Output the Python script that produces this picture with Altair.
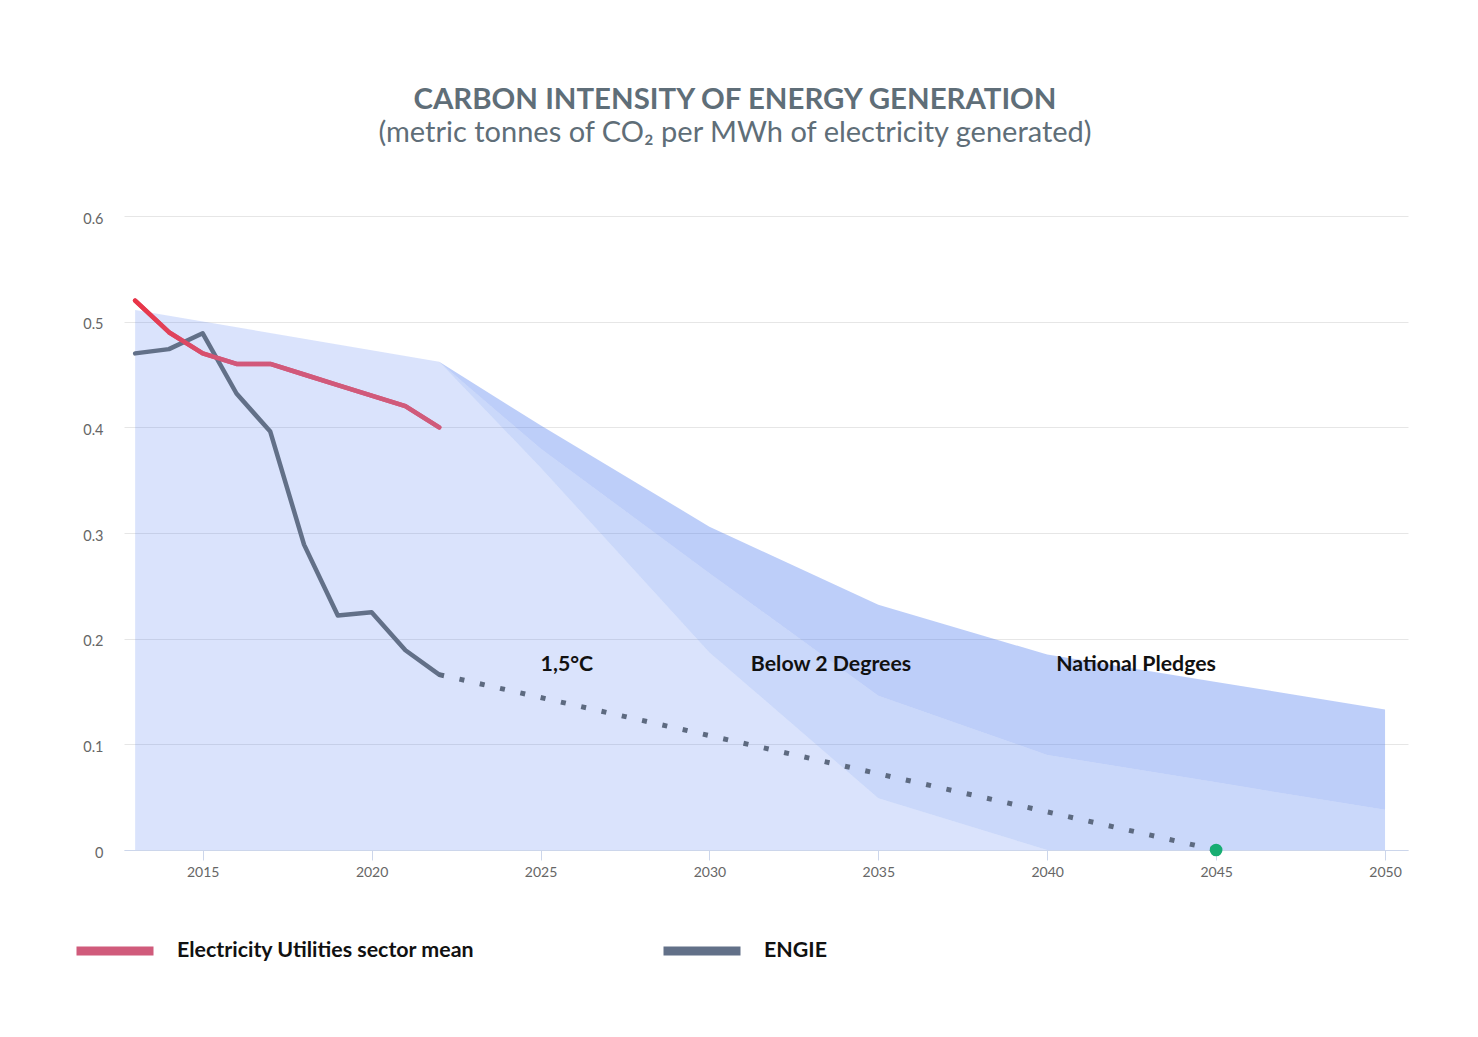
import altair as alt
import pandas as pd

# ---- data ----
band_years = [2013, 2022, 2025, 2030, 2035, 2040, 2045, 2050]
p15_upper = [0.511, 0.462, 0.362, 0.187, 0.049, 0.0, 0.0, 0.0]
b2d_upper = [0.511, 0.462, 0.380, 0.262, 0.146, 0.090, 0.064, 0.038]
np_upper = [0.511, 0.462, 0.402, 0.306, 0.232, 0.185, 0.159, 0.133]

line_years = [2013, 2014, 2015, 2016, 2017, 2018, 2019, 2020, 2021, 2022]
sector_mean = [0.520, 0.490, 0.470, 0.460, 0.460, 0.450, 0.440, 0.430, 0.420, 0.400]
engie = [0.470, 0.474, 0.489, 0.432, 0.396, 0.289, 0.222, 0.225, 0.189, 0.166]

proj_years = [2022, 2045]
proj_values = [0.166, 0.0]

target_year = [2045]
target_value = [0.0]

band_labels = ["1,5°C", "Below 2 Degrees", "National Pledges"]
band_label_x = [2025.78, 2033.6, 2042.63]
band_label_y = [0.175, 0.175, 0.175]

series_names = ["Electricity Utilities sector mean", "ENGIE"]
series_colors = ["#d05b7b", "#627088"]

x_ticks = [2015, 2020, 2025, 2030, 2035, 2040, 2045, 2050]
y_ticks = [0.0, 0.1, 0.2, 0.3, 0.4, 0.5, 0.6]

# ---- tables ----
bands = pd.DataFrame({"year": band_years, "p15": p15_upper, "b2d": b2d_upper,
                      "np": np_upper, "zero": [0.0] * len(band_years)})
lines = pd.concat([
    pd.DataFrame({"year": line_years, "value": sector_mean, "series": series_names[0]}),
    pd.DataFrame({"year": line_years, "value": engie, "series": series_names[1]}),
])
red_only = pd.DataFrame({"year": line_years, "value": sector_mean})
proj = pd.DataFrame({"year": proj_years, "value": proj_values})
target = pd.DataFrame({"year": target_year, "value": target_value})
labels = pd.DataFrame({"year": band_label_x, "value": band_label_y, "text": band_labels})

xscale = alt.Scale(domain=[2012.67, 2050.68], nice=False, zero=False)
yscale = alt.Scale(domain=[0, 0.6], nice=False)

x_axis = alt.Axis(values=x_ticks, format="d", grid=False, domainColor="#ccd6eb",
                  tickColor="#ccd6eb", tickSize=10, labelPadding=5,
                  labelFont="Lato", labelFontSize=14, labelColor="#666666")
y_axis = alt.Axis(values=y_ticks, format=".1~f", domain=False, ticks=False,
                  labelPadding=21, labelOffset=3, gridColor="#e6e6e6", labelFont="Lato",
                  labelFontSize=14.5, labelColor="#666666")

base_blue = "#4f7df0"

band15 = alt.Chart(bands).mark_area(color=base_blue, opacity=0.21).encode(
    x=alt.X("year:Q", scale=xscale, title=None, axis=x_axis),
    y=alt.Y("p15:Q", scale=yscale, axis=y_axis, title=None), y2="zero:Q")
band2 = alt.Chart(bands).mark_area(color=base_blue, opacity=0.30).encode(
    x="year:Q", y=alt.Y("b2d:Q", scale=yscale), y2="p15:Q")
band3 = alt.Chart(bands).mark_area(color=base_blue, opacity=0.375).encode(
    x="year:Q", y=alt.Y("np:Q", scale=yscale), y2="b2d:Q")

main_lines = alt.Chart(lines).mark_line(strokeWidth=4.5, strokeCap="round", strokeJoin="round").encode(
    x="year:Q", y=alt.Y("value:Q", scale=yscale),
    color=alt.Color("series:N",
                    scale=alt.Scale(domain=series_names, range=series_colors),
                    legend=alt.Legend(orient="none", legendX=-52, legendY=692,
                                      direction="horizontal", title=None,
                                      symbolType="stroke", symbolSize=5929,
                                      symbolStrokeWidth=9, labelFont="Lato",
                                      labelFontSize=21.4, labelFontWeight="bold",
                                      labelColor="#111111", labelOffset=19,
                                      columnPadding=170, labelLimit=600)),
    detail="series:N")

red_grad = alt.Chart(red_only).mark_line(
    strokeWidth=4.5, strokeCap="round", strokeJoin="round",
    stroke=alt.LinearGradient(gradient="linear",
                              stops=[alt.GradientStop(offset=0, color="#ea3446"),
                                     alt.GradientStop(offset=0.3, color="#d2587a"),
                                     alt.GradientStop(offset=1, color="#d05b7b")],
                              x1=0, x2=1, y1=0, y2=0)
).encode(x="year:Q", y=alt.Y("value:Q", scale=yscale))

proj_line = alt.Chart(proj).mark_line(color="#5d6a80", strokeWidth=5,
                                      strokeDash=[5, 15.8]).encode(
    x="year:Q", y=alt.Y("value:Q", scale=yscale))

target_pt = alt.Chart(target).mark_circle(color="#17ad72", size=160, opacity=1).encode(
    x="year:Q", y=alt.Y("value:Q", scale=yscale))

label_marks = alt.Chart(labels).mark_text(font="Lato", fontSize=21.3, fontWeight="bold",
                                          color="#111111", align="center",
                                          baseline="middle").encode(
    x="year:Q", y=alt.Y("value:Q", scale=yscale), text="text:N")

chart = alt.layer(band15, band2, band3, main_lines, red_grad, proj_line, target_pt,
                  label_marks).properties(
    width=1284, height=634,
    autosize=alt.AutoSizeParams(type="none"),
    padding={"left": 116, "top": 208, "right": 62, "bottom": 179},
    title=alt.TitleParams(
        text="CARBON INTENSITY OF ENERGY GENERATION",
        subtitle="(metric tonnes of CO₂ per MWh of electricity generated)",
        font="Lato", fontSize=29.4, fontWeight="bold", color="#5f6e78",
        subtitleFont="Lato", subtitleFontSize=29, subtitleColor="#5f6e78",
        subtitlePadding=4, anchor="middle", dx=-31, offset=62),
).configure_view(stroke=None)

chart.save("out.html", embed_options={"renderer": "svg", "actions": False})
